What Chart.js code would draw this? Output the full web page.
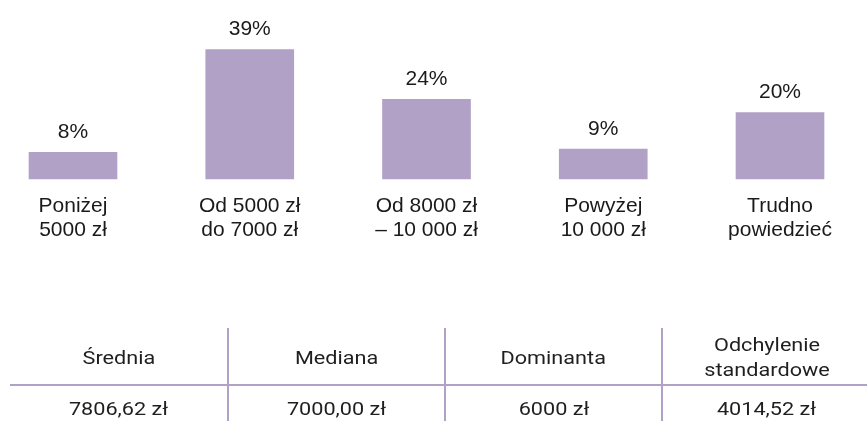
<!DOCTYPE html>
<html>
<head>
<meta charset="utf-8">
<script src="https://cdn.jsdelivr.net/npm/chart.js@4.4.1/dist/chart.umd.min.js"></script>
<style>
  html, body { margin:0; padding:0; background:#ffffff; width:867px; height:421px; overflow:hidden; }
  #chartBox { position:absolute; left:0; top:0; width:867px; height:266px; }
  #stats { position:absolute; left:0; top:0; width:867px; height:421px; font-family:Roboto, "Noto Sans", sans-serif; color:#1f1f1f; }
  .cell { position:absolute; display:flex; align-items:center; justify-content:center; text-align:center; font-size:19px; line-height:25px; white-space:pre-line; }
  .cell span { display:inline-block; transform:scaleX(1.14); transform-origin:50% 50%; }
  .vline { position:absolute; width:2px; top:328px; height:100px; background:#b2a1c7; }
  .hline { position:absolute; left:10px; top:384px; width:860px; height:2px; background:#b2a1c7; }
</style>
</head>
<body>
<div id="chartBox"><canvas id="c" width="867" height="266"></canvas></div>
<div id="stats"></div>
<script>
// ---- data ----
const categories = [
  ['Poniżej', '5000 zł'],
  ['Od 5000 zł', 'do 7000 zł'],
  ['Od 8000 zł', '– 10 000 zł'],
  ['Powyżej', '10 000 zł'],
  ['Trudno', 'powiedzieć']
];
const shares = [8, 39, 24, 9, 20];
const shareLabels = ['8%', '39%', '24%', '9%', '20%'];

const statHeaders = ['Średnia', 'Mediana', 'Dominanta', 'Odchylenie\nstandardowe'];
const statValues = ['7806,62 zł', '7000,00 zł', '6000 zł', '4014,52 zł'];

// ---- chart ----
const valueLabelPlugin = {
  id: 'valueLabels',
  afterDatasetsDraw(chart) {
    const ctx = chart.ctx;
    const meta = chart.getDatasetMeta(0);
    ctx.save();
    ctx.font = '21px "Liberation Sans", Arial, sans-serif';
    ctx.fillStyle = '#1a1a1a';
    ctx.textAlign = 'center';
    ctx.textBaseline = 'middle';
    meta.data.forEach((bar, i) => {
      ctx.fillText(shareLabels[i], bar.x, bar.y - 20);
    });
    ctx.restore();
  }
};

new Chart(document.getElementById('c'), {
  type: 'bar',
  data: {
    labels: categories,
    datasets: [{
      data: shares,
      backgroundColor: '#b2a1c7',
      borderWidth: 0,
      barThickness: 88,
      clip: false
    }]
  },
  options: {
    responsive: false,
    animation: false,
    devicePixelRatio: 1,
    layout: { padding: { left: 73, right: 87, top: 13, bottom: 9 } },
    plugins: { legend: { display: false }, tooltip: { enabled: false } },
    scales: {
      x: {
        type: 'category',
        offset: false,
        grid: { display: false, drawTicks: false },
        border: { display: false },
        ticks: {
          padding: 15,
          color: '#1a1a1a',
          autoSkip: false,
          maxRotation: 0,
          font: { family: '"Liberation Sans", Arial, sans-serif', size: 21, lineHeight: '24px' }
        }
      },
      y: { display: false, min: 0, max: 50 }
    }
  },
  plugins: [valueLabelPlugin]
});

// ---- statistics table ----
const stats = document.getElementById('stats');
const colLeft = [10, 228, 445, 662];
const colWidth = [218, 217, 217, 210];
function addCell(text, left, width, top, height) {
  const d = document.createElement('div');
  d.className = 'cell';
  d.style.left = left + 'px'; d.style.width = width + 'px';
  d.style.top = top + 'px'; d.style.height = height + 'px';
  const s = document.createElement('span');
  s.textContent = text;
  d.appendChild(s);
  stats.appendChild(d);
}
colLeft.forEach((left, i) => {
  addCell(statHeaders[i], left, colWidth[i], 330, 54);
  addCell(statValues[i], left, colWidth[i], 386, 44);
  if (i > 0) {
    const l = document.createElement('div');
    l.className = 'vline';
    l.style.left = (left - 1) + 'px';
    stats.appendChild(l);
  }
});
const hl = document.createElement('div');
hl.className = 'hline';
stats.appendChild(hl);
</script>
</body>
</html>
